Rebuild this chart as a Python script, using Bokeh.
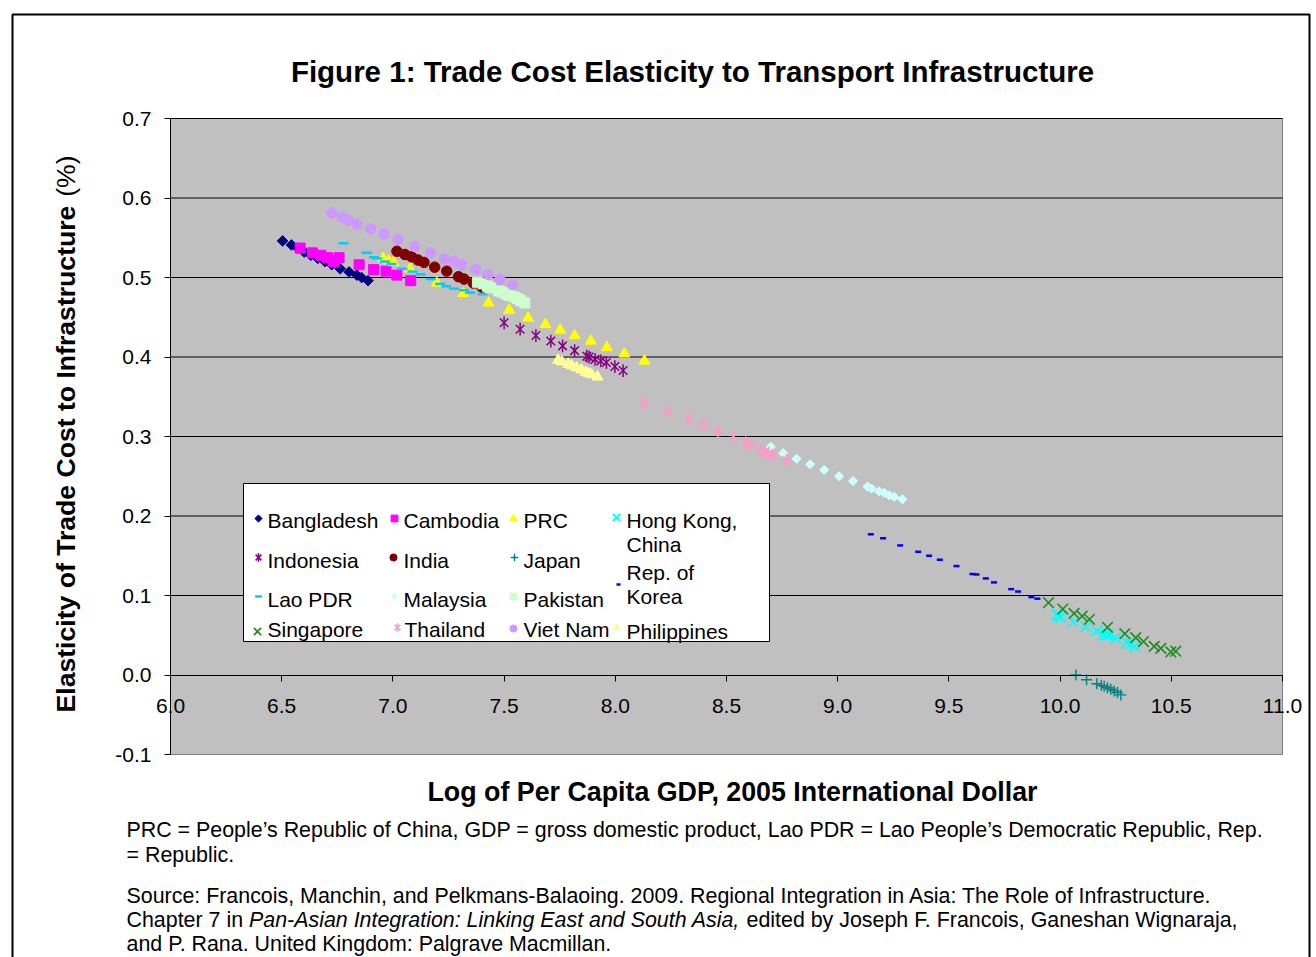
import math
from bokeh.plotting import figure
from bokeh.models import LinearAxis, FixedTicker, Range1d, Label, BoxAnnotation
from bokeh.embed import file_html
from bokeh.resources import INLINE

FONT = "Liberation Sans"

# ---------------- data ----------------
x_ticks = [6.0, 6.5, 7.0, 7.5, 8.0, 8.5, 9.0, 9.5, 10.0, 10.5, 11.0]
x_tick_labels = ["6.0", "6.5", "7.0", "7.5", "8.0", "8.5", "9.0", "9.5", "10.0", "10.5", "11.0"]
y_ticks = [-0.1, 0.0, 0.1, 0.2, 0.3, 0.4, 0.5, 0.6, 0.7]
y_tick_labels = ["-0.1", "0.0", "0.1", "0.2", "0.3", "0.4", "0.5", "0.6", "0.7"]
grid_ticks = [0.1, 0.2, 0.3, 0.4, 0.5, 0.6, 0.7]

bangladesh_x = [6.504, 6.544, 6.572, 6.601, 6.631, 6.662, 6.694, 6.725, 6.763, 6.803, 6.838, 6.859, 6.888]
bangladesh_y = [0.546, 0.541, 0.537, 0.532, 0.528, 0.524, 0.520, 0.516, 0.511, 0.507, 0.503, 0.500, 0.496]

cambodia_x = [6.583, 6.638, 6.676, 6.706, 6.733, 6.758, 6.848, 6.913, 6.969, 7.018, 7.080]
cambodia_y = [0.537, 0.531, 0.528, 0.525, 0.520, 0.525, 0.516, 0.510, 0.508, 0.503, 0.496]

prc_x = [6.956, 6.980, 7.003, 7.077, 7.197, 7.317, 7.430, 7.523, 7.608, 7.686, 7.752, 7.817, 7.890, 7.962, 8.041, 8.131]
prc_y = [0.524, 0.521, 0.519, 0.511, 0.493, 0.480, 0.468, 0.459, 0.449, 0.441, 0.434, 0.427, 0.420, 0.412, 0.404, 0.395]

hongkong_x = [9.985, 9.995, 10.003, 10.060, 10.116, 10.165, 10.195, 10.210, 10.220, 10.250, 10.300, 10.318, 10.336]
hongkong_y = [0.0754, 0.0745, 0.0725, 0.067, 0.0607, 0.0553, 0.0511, 0.0503, 0.051, 0.0461, 0.0406, 0.039, 0.0356]

indonesia_x = [7.500, 7.572, 7.643, 7.710, 7.763, 7.817, 7.872, 7.882, 7.909, 7.935, 7.960, 7.998, 8.035]
indonesia_y = [0.443, 0.435, 0.427, 0.420, 0.414, 0.408, 0.401, 0.400, 0.397, 0.395, 0.393, 0.388, 0.383]

india_x = [7.018, 7.054, 7.084, 7.113, 7.140, 7.188, 7.242, 7.295, 7.320, 7.362, 7.400]
india_y = [0.533, 0.529, 0.526, 0.522, 0.519, 0.513, 0.508, 0.501, 0.498, 0.493, 0.488]

japan_x = [10.071, 10.119, 10.165, 10.185, 10.198, 10.213, 10.228, 10.243, 10.258, 10.273]
japan_y = [0.000, -0.006, -0.011, -0.013, -0.014, -0.016, -0.018, -0.020, -0.022, -0.025]

korea_x = [9.149, 9.204, 9.281, 9.362, 9.411, 9.459, 9.534, 9.606, 9.624, 9.666, 9.703, 9.780, 9.811, 9.871, 9.898]
korea_y = [0.177, 0.172, 0.163, 0.155, 0.150, 0.145, 0.137, 0.127, 0.1265, 0.1215, 0.1165, 0.108, 0.105, 0.098, 0.096]

lao_x = [6.778, 6.883, 6.915, 6.930, 6.964, 6.994, 7.043, 7.088, 7.125, 7.170, 7.212, 7.240, 7.275, 7.320, 7.347, 7.403]
lao_y = [0.543, 0.531, 0.5255, 0.524, 0.520, 0.517, 0.511, 0.5075, 0.504, 0.498, 0.492, 0.489, 0.486, 0.484, 0.481, 0.479]

malaysia_x = [8.699, 8.755, 8.815, 8.876, 8.939, 9.006, 9.069, 9.134, 9.152, 9.186, 9.209, 9.231, 9.254, 9.291]
malaysia_y = [0.287, 0.279, 0.272, 0.265, 0.258, 0.250, 0.244, 0.237, 0.2345, 0.231, 0.229, 0.226, 0.224, 0.221]

pakistan_x = [7.380, 7.405, 7.425, 7.440, 7.475, 7.492, 7.510, 7.525, 7.545, 7.560, 7.575, 7.593]
pakistan_y = [0.494, 0.492, 0.489, 0.487, 0.483, 0.4815, 0.479, 0.4775, 0.4755, 0.4735, 0.471, 0.468]

singapore_x = [9.948, 10.012, 10.063, 10.099, 10.132, 10.213, 10.291, 10.340, 10.375, 10.423, 10.453, 10.498, 10.520]
singapore_y = [0.091, 0.083, 0.0775, 0.074, 0.070, 0.060, 0.052, 0.047, 0.042, 0.036, 0.0335, 0.029, 0.030]

thailand_x = [8.130, 8.235, 8.329, 8.397, 8.462, 8.531, 8.587, 8.609, 8.654, 8.674, 8.690, 8.707, 8.770]
thailand_y = [0.3425, 0.332, 0.322, 0.315, 0.307, 0.300, 0.292, 0.290, 0.283, 0.281, 0.279, 0.276, 0.270]

vietnam_x = [6.725, 6.773, 6.800, 6.838, 6.901, 6.960, 7.023, 7.098, 7.170, 7.232, 7.275, 7.308, 7.373, 7.428, 7.481, 7.538]
vietnam_y = [0.581, 0.576, 0.572, 0.567, 0.561, 0.555, 0.548, 0.539, 0.531, 0.5235, 0.520, 0.516, 0.510, 0.504, 0.4975, 0.491]

philippines_x = [7.743, 7.760, 7.788, 7.805, 7.826, 7.848, 7.867, 7.880, 7.893, 7.920]
philippines_y = [0.396, 0.394, 0.391, 0.389, 0.3865, 0.384, 0.381, 0.3795, 0.378, 0.375]

title_text = "Figure 1: Trade Cost Elasticity to Transport Infrastructure"
x_title = "Log of Per Capita GDP, 2005 International Dollar"
y_title_bold = "Elasticity of Trade Cost to Infrastructure"
y_title_unit = "(%)"
note_1 = "PRC = People\u2019s Republic of China, GDP = gross domestic product, Lao PDR = Lao People\u2019s Democratic Republic, Rep."
note_2 = "= Republic."
source_1 = "Source: Francois, Manchin, and Pelkmans-Balaoing. 2009. Regional Integration in Asia: The Role of Infrastructure."
source_2a = "Chapter 7 in"
source_2b = "Pan-Asian Integration: Linking East and South Asia,"
source_2c = "edited by Joseph F. Francois, Ganeshan Wignaraja,"
source_3 = "and P. Rana. United Kingdom: Palgrave Macmillan."

series = [
    ("Bangladesh", bangladesh_x, bangladesh_y, "bangladesh"),
    ("Cambodia", cambodia_x, cambodia_y, "cambodia"),
    ("PRC", prc_x, prc_y, "prc"),
    ("Hong Kong, China", hongkong_x, hongkong_y, "hongkong"),
    ("Indonesia", indonesia_x, indonesia_y, "indonesia"),
    ("India", india_x, india_y, "india"),
    ("Japan", japan_x, japan_y, "japan"),
    ("Rep. of Korea", korea_x, korea_y, "korea"),
    ("Lao PDR", lao_x, lao_y, "lao"),
    ("Malaysia", malaysia_x, malaysia_y, "malaysia"),
    ("Pakistan", pakistan_x, pakistan_y, "pakistan"),
    ("Singapore", singapore_x, singapore_y, "singapore"),
    ("Thailand", thailand_x, thailand_y, "thailand"),
    ("Viet Nam", vietnam_x, vietnam_y, "vietnam"),
    ("Philippines", philippines_x, philippines_y, "philippines"),
]

# ---------------- styles ----------------
styles = {
    "bangladesh": dict(marker="square", size=7.5, color="#000080", angle=math.pi / 4, lw=1),
    "cambodia": dict(marker="square", size=10, color="#FF00FF", angle=0, lw=1),
    "prc": dict(marker="triangle", size=11, color="#FFFF00", angle=0, lw=1),
    "hongkong": dict(marker="x", size=15, color="#00FFFF", angle=0, lw=1.8),
    "indonesia": dict(marker="star", size=15, color="#800080", angle=0, lw=1.5),
    "india": dict(marker="circle", size=10.5, color="#800000", angle=0, lw=1),
    "japan": dict(marker="cross", size=11, color="#008080", angle=0, lw=1.4),
    "korea": dict(marker="dash", size=6, color="#0000FF", angle=0, lw=2.5),
    "lao": dict(marker="dash", size=10, color="#00CCFF", angle=0, lw=2.5),
    "malaysia": dict(marker="square", size=6.5, color="#CCFFFF", angle=math.pi / 4, lw=1),
    "pakistan": dict(marker="square", size=10, color="#CCFFCC", angle=0, lw=1),
    "singapore": dict(marker="x", size=15, color="#228B22", angle=0, lw=1.6),
    "thailand": dict(marker="star", size=15, color="#FF99CC", angle=0, lw=1.6),
    "vietnam": dict(marker="circle", size=10.5, color="#CC99FF", angle=0, lw=1),
    "philippines": dict(marker="triangle", size=11, color="#FFFF99", angle=0, lw=1),
}

# ---------------- layout (page pixels) ----------------
W, H = 1316, 957
# plot area (grey box) in page pixels and its data limits
PA_L, PA_T, PA_R, PA_B = 170, 118, 1282, 754
X0, X1, Y0, Y1 = 6.0, 11.0, -0.1, 0.7
XS = (PA_R - PA_L) / (X1 - X0)
YS = (PA_B - PA_T) / (Y1 - Y0)
# drawing frame: almost the whole canvas, so that every text lies inside it
FR_L, FR_T, FR_R, FR_B = 0, 10, 1312, 957


def px_x(px):
    return X0 + (px - PA_L) / XS


def px_y(py):
    return Y1 - (py - PA_T) / YS


p = figure(width=W, height=H,
           x_range=Range1d(px_x(FR_L), px_x(FR_R)), y_range=Range1d(px_y(FR_B), px_y(FR_T)),
           output_backend="svg", toolbar_location=None,
           x_axis_type=None, y_axis_type=None,
           min_border=0, min_border_left=FR_L, min_border_top=FR_T,
           min_border_right=W - FR_R, min_border_bottom=H - FR_B,
           background_fill_color="white", border_fill_color="white",
           outline_line_color=None)

# grey plot area and horizontal gridlines
p.quad(left=[X0], right=[X1], bottom=[Y0], top=[Y1], fill_color="#C0C0C0",
       line_color="#808080", line_width=1, level="underlay")
p.segment(x0=[X0] * len(grid_ticks), x1=[X1] * len(grid_ticks), y0=grid_ticks, y1=grid_ticks,
          line_color="black", line_width=1, level="underlay")


def style_axis(ax):
    ax.axis_line_color = "black"
    ax.axis_line_width = 1
    ax.major_tick_line_color = "black"
    ax.major_tick_out = 0
    ax.major_tick_in = 6
    ax.minor_tick_out = 0
    ax.minor_tick_in = 0
    ax.major_label_standoff = 0
    ax.major_label_text_font_size = "0px"
    ax.major_label_text_color = None


# y axis at x = 6 (ticks pointing left), x axis crossing at y = 0 (ticks pointing down)
yaxis = LinearAxis(fixed_location=X0, bounds=(Y0, Y1), ticker=FixedTicker(ticks=y_ticks))
style_axis(yaxis)
p.add_layout(yaxis, "right")
xaxis = LinearAxis(fixed_location=0, bounds=(X0, X1), ticker=FixedTicker(ticks=x_ticks))
style_axis(xaxis)
p.add_layout(xaxis, "above")


def text(x, y, s, size="21px", style="normal", align="left", baseline="middle", angle=0.0):
    p.add_layout(Label(x=x, y=y, text=s, text_font=FONT, text_font_size=size,
                       text_font_style=style, text_align=align, text_baseline=baseline,
                       text_color="black", angle=angle))


for t, lab in zip(x_ticks, x_tick_labels):
    text(t, px_y(705.5), lab, align="center")
for t, lab in zip(y_ticks, y_tick_labels):
    text(px_x(151), t, lab, align="right")


def draw(xs, ys, st, scale=1.0, level="glyph"):
    size = st["size"] * scale
    common = dict(line_color=st["color"], line_width=st["lw"], level=level)
    if st["marker"] == "star":
        p.scatter(xs, ys, marker="x", size=size * 0.8, fill_color=None, **common)
        p.scatter(xs, ys, marker="dash", size=size * 0.85, angle=math.pi / 2, fill_color=None, **common)
    elif st["marker"] in ("x", "cross", "dash"):
        p.scatter(xs, ys, marker=st["marker"], size=size, angle=st["angle"], fill_color=None, **common)
    else:
        p.scatter(xs, ys, marker=st["marker"], size=size, angle=st["angle"],
                  fill_color=st["color"], **common)


for name, xs, ys, key in series:
    draw(xs, ys, styles[key])

# ---------------- legend ----------------
p.add_layout(BoxAnnotation(left=px_x(243), right=px_x(769), top=px_y(483), bottom=px_y(641),
                           fill_color="white", fill_alpha=1, line_color="black", line_alpha=1,
                           line_width=1, level="annotation"))

legend_layout = [
    ("bangladesh", 258, 518, 267, [("Bangladesh", 520)]),
    ("cambodia", 394, 518, 403, [("Cambodia", 520)]),
    ("prc", 513, 518, 523, [("PRC", 520)]),
    ("hongkong", 616, 517, 626, [("Hong Kong,", 520), ("China", 544)]),
    ("indonesia", 258, 557, 267, [("Indonesia", 560)]),
    ("india", 393, 557, 403, [("India", 560)]),
    ("japan", 514, 557, 523, [("Japan", 560)]),
    ("korea", 618, 584, 626, [("Rep. of", 572), ("Korea", 596)]),
    ("lao", 258, 596, 267, [("Lao PDR", 599)]),
    ("malaysia", 394, 596, 403, [("Malaysia", 599)]),
    ("pakistan", 513, 596, 523, [("Pakistan", 599)]),
    ("singapore", 257, 631, 267, [("Singapore", 629)]),
    ("thailand", 397, 627, 404, [("Thailand", 629)]),
    ("vietnam", 513, 628, 523, [("Viet Nam", 629)]),
    ("philippines", 616, 627, 626, [("Philippines", 631)]),
]
for key, mx, my, tx, lines in legend_layout:
    draw([px_x(mx)], [px_y(my)], styles[key], scale=0.68, level="overlay")
    for txt, ty in lines:
        text(px_x(tx), px_y(ty), txt)

# ---------------- titles & notes ----------------
text(px_x(692), px_y(71), title_text, size="29.5px", style="bold", align="center")
text(px_x(732), px_y(791), x_title, size="26.8px", style="bold", align="center")
text(px_x(65), px_y(712), y_title_bold, size="26.6px", style="bold", angle=math.pi / 2)
text(px_x(65), px_y(155), y_title_unit, size="26.6px", align="right", angle=math.pi / 2)

notes = [
    (126, 829, note_1, "normal"),
    (126, 854, note_2, "normal"),
    (126, 895, source_1, "normal"),
    (126, 919, source_2a, "normal"),
    (248.5, 919, source_2b, "italic"),
    (746, 919, source_2c, "normal"),
    (126, 943, source_3, "normal"),
]
for nx, ny, txt, fs in notes:
    text(px_x(nx), px_y(ny), txt, size="21.4px", style=fs)

# outer frame of the exhibit (open at the bottom)
p.add_layout(BoxAnnotation(left=px_x(12), right=px_x(1309), top=px_y(14), bottom=px_y(1200),
                           fill_color=None, fill_alpha=0, line_color="black", line_alpha=1,
                           line_width=2))

open("out.html", "w").write(file_html(p, INLINE))
